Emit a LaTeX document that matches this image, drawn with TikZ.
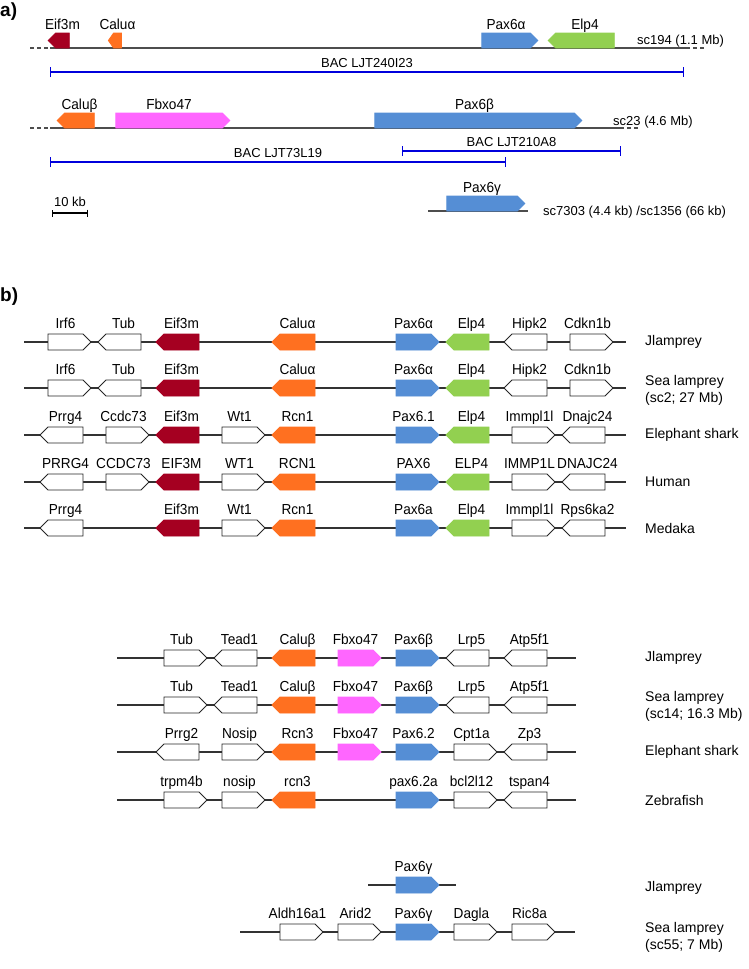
\documentclass[tikz,border=0pt]{standalone}
\usepackage{fontspec}
\setmainfont{Liberation Sans}
\newfontfamily\genefont{Liberation Sans}[FakeStretch=0.94]
\usepackage{tikz}
\usetikzlibrary{arrows.meta,shapes.symbols,positioning}

\definecolor{eifred}{RGB}{165,0,33}
\definecolor{caluorange}{RGB}{255,112,32}
\definecolor{paxblue}{RGB}{85,142,213}
\definecolor{elpgreen}{RGB}{146,208,80}
\definecolor{fbxpink}{RGB}{255,102,255}
\definecolor{bacblue}{RGB}{0,0,220}
\definecolor{chrgray}{RGB}{77,77,77}

\begin{document}
\begin{tikzpicture}[x=1pt,y=-1pt,
  gbox/.style={signal,minimum width=43pt,minimum height=16pt,inner sep=0pt,line width=0.8pt},
  gr/.style={gbox,signal to=east},
  gl/.style={gbox,signal to=west},
  wg/.style={draw=black!85,fill=white},
  eif/.style={fill=eifred,draw=eifred},
  calu/.style={fill=caluorange,draw=caluorange},
  pax/.style={fill=paxblue,draw=paxblue},
  elp/.style={fill=elpgreen,draw=elpgreen},
  fbx/.style={fill=fbxpink,draw=fbxpink},
  glab/.style={font=\genefont\fontsize{14.5}{16}\selectfont,inner sep=0pt,text depth=0pt,label distance=5pt},
  alab/.style={glab,label distance=3pt},
  sp/.style={font=\fontsize{14}{17}\selectfont,inner sep=0pt,anchor=west},
  sp2/.style={font=\fontsize{14}{17}\selectfont,inner sep=0pt,anchor=north west,align=left},
  small/.style={font=\fontsize{13}{15}\selectfont,inner sep=0pt},
  panel/.style={font=\fontsize{19}{21}\selectfont\bfseries,inner sep=0pt,anchor=west},
  chr/.style={draw=black!80,line width=1.2pt},
  chra/.style={draw=chrgray,line width=1.4pt},
  chrdash/.style={chra,dash pattern=on 4pt off 3pt},
  bac/.style={draw=bacblue,line width=1.4pt,arrows={Bar[width=10pt]-Bar[width=10pt]}},
  bar/.style={draw=black,line width=1.2pt,arrows={Bar[width=7pt]-Bar[width=7pt]}},
  baclab/.style={small,text depth=0pt,above=4pt}]
  \fill[white] (0,0) rectangle (748,969);
  \useasboundingbox (0,0) rectangle (748,969);

  \node[panel] (pa) at (0,12) {a)};

  \coordinate (c1l) at (30,48); \coordinate (c1s) at (50,48);
  \coordinate (c1e) at (686,48); \coordinate (c1r) at (705,48);
  \draw[chrdash] (c1l) -- (c1s);
  \draw[chra] (c1s) -- (c1e);
  \draw[chrdash] (c1e) -- (c1r);
  \node[gl,eif,minimum width=21pt,minimum height=15pt,label={[alab]above:Eif3m}] (eifa) at (62.5,40.5) {};
  \node[gl,calu,minimum width=13pt,minimum height=15pt,signal pointer angle=110,label={[alab]above:Caluα}] (calua) at (117.5,40.5) {};
  \node[gr,pax,minimum width=56pt,minimum height=15pt,label={[alab]above:Pax6α}] (paxa) at (506,40.5) {};
  \node[gl,elp,minimum width=66pt,minimum height=15pt,label={[alab]above:Elp4}] (elpa) at (585,40.5) {};
  \node[small,anchor=west] (sc194) at (637,41) {sc194 (1.1 Mb)};

  \coordinate (bac1s) at (50,72); \coordinate (bac1e) at (684,72);
  \draw[bac] (bac1s) -- node[baclab] {BAC LJT240I23} (bac1e);

  \coordinate (c2l) at (30,128); \coordinate (c2s) at (50,128);
  \coordinate (c2e) at (620,128); \coordinate (c2r) at (640,128);
  \draw[chrdash] (c2l) -- (c2s);
  \draw[chra] (c2s) -- (c2e);
  \draw[chrdash] (c2e) -- (c2r);
  \node[gl,calu,minimum width=37pt,minimum height=15pt,label={[alab]above:Caluβ}] (calub) at (79.5,120.5) {};
  \node[gr,fbx,minimum width=114pt,minimum height=15pt,label={[alab]above:Fbxo47}] (fbxb) at (169,120.5) {};
  \node[gr,pax,minimum width=207pt,minimum height=15pt,label={[alab]above:Pax6β}] (paxb) at (474.5,120.5) {};
  \node[small,anchor=west] (sc23) at (613,122) {sc23 (4.6 Mb)};

  \coordinate (bac2s) at (402,151); \coordinate (bac2e) at (621,151);
  \draw[bac] (bac2s) -- node[baclab] {BAC LJT210A8} (bac2e);
  \coordinate (bac3s) at (50,162); \coordinate (bac3e) at (506,162);
  \draw[bac] (bac3s) -- node[baclab] {BAC LJT73L19} (bac3e);

  \coordinate (kb1) at (52,213); \coordinate (kb2) at (88,213);
  \draw[bar] (kb1) -- node[small,text depth=0pt,above=6pt] {10 kb} (kb2);

  \coordinate (c3s) at (428,211); \coordinate (c3e) at (528,211);
  \draw[chra] (c3s) -- (c3e);
  \node[gr,pax,minimum width=78pt,minimum height=15pt,label={[alab]above:Pax6γ}] (paxg) at (482,203.5) {};
  \node[small,anchor=west] (sc7303) at (543,212) {sc7303 (4.4 kb) /sc1356 (66 kb)};

  \node[panel] (pb) at (0,297) {b)};

  \coordinate (jl1a) at (24,342); \coordinate (jl1b) at (626,342);
  \draw[chr] (jl1a) -- (jl1b);
  \foreach \pos/\dir/\sty/\gname [count=\k] in {0/gr/wg/Irf6,1/gl/wg/Tub,2/gl/eif/Eif3m,4/gl/calu/Caluα,6/gr/pax/Pax6α,7/gl/elp/Elp4,8/gl/wg/Hipk2,9/gr/wg/Cdkn1b}
    \node[\dir,\sty,label={[glab]above:\gname}] (jl1g\k) at ({65.5+58*\pos},342) {};
  \node[sp] (jl1t) at (645,342) {Jlamprey};

  \coordinate (sl1a) at (24,388); \coordinate (sl1b) at (626,388);
  \draw[chr] (sl1a) -- (sl1b);
  \foreach \pos/\dir/\sty/\gname [count=\k] in {0/gr/wg/Irf6,1/gl/wg/Tub,2/gl/eif/Eif3m,4/gl/calu/Caluα,6/gr/pax/Pax6α,7/gl/elp/Elp4,8/gl/wg/Hipk2,9/gr/wg/Cdkn1b}
    \node[\dir,\sty,label={[glab]above:\gname}] (sl1g\k) at ({65.5+58*\pos},388) {};
  \node[sp2] (sl1t) at (645,375) {Sea lamprey\\(sc2; 27 Mb)};

  \coordinate (es1a) at (24,435); \coordinate (es1b) at (626,435);
  \draw[chr] (es1a) -- (es1b);
  \foreach \pos/\dir/\sty/\gname [count=\k] in {0/gl/wg/Prrg4,1/gr/wg/Ccdc73,2/gl/eif/Eif3m,3/gr/wg/Wt1,4/gl/calu/Rcn1,6/gr/pax/Pax6.1,7/gl/elp/Elp4,8/gr/wg/Immpl1l,9/gl/wg/Dnajc24}
    \node[\dir,\sty,label={[glab]above:\gname}] (es1g\k) at ({65.5+58*\pos},435) {};
  \node[sp] (es1t) at (645,435) {Elephant shark};

  \coordinate (hu1a) at (24,482); \coordinate (hu1b) at (626,482);
  \draw[chr] (hu1a) -- (hu1b);
  \foreach \pos/\dir/\sty/\gname [count=\k] in {0/gl/wg/PRRG4,1/gr/wg/CCDC73,2/gl/eif/EIF3M,3/gr/wg/WT1,4/gl/calu/RCN1,6/gr/pax/PAX6,7/gl/elp/ELP4,8/gr/wg/IMMP1L,9/gl/wg/DNAJC24}
    \node[\dir,\sty,label={[glab]above:\gname}] (hu1g\k) at ({65.5+58*\pos},482) {};
  \node[sp] (hu1t) at (645,482) {Human};

  \coordinate (me1a) at (24,528); \coordinate (me1b) at (626,528);
  \draw[chr] (me1a) -- (me1b);
  \foreach \pos/\dir/\sty/\gname [count=\k] in {0/gl/wg/Prrg4,2/gl/eif/Eif3m,3/gr/wg/Wt1,4/gl/calu/Rcn1,6/gr/pax/Pax6a,7/gl/elp/Elp4,8/gr/wg/Immpl1l,9/gl/wg/Rps6ka2}
    \node[\dir,\sty,label={[glab]above:\gname}] (me1g\k) at ({65.5+58*\pos},528) {};
  \node[sp] (me1t) at (645,528) {Medaka};

  \coordinate (jl2a) at (117,658); \coordinate (jl2b) at (576,658);
  \draw[chr] (jl2a) -- (jl2b);
  \foreach \pos/\dir/\sty/\gname [count=\k] in {2/gr/wg/Tub,3/gl/wg/Tead1,4/gl/calu/Caluβ,5/gr/fbx/Fbxo47,6/gr/pax/Pax6β,7/gl/wg/Lrp5,8/gl/wg/Atp5f1}
    \node[\dir,\sty,label={[glab]above:\gname}] (jl2g\k) at ({65.5+58*\pos},658) {};
  \node[sp] (jl2t) at (645,658) {Jlamprey};

  \coordinate (sl2a) at (117,705); \coordinate (sl2b) at (576,705);
  \draw[chr] (sl2a) -- (sl2b);
  \foreach \pos/\dir/\sty/\gname [count=\k] in {2/gr/wg/Tub,3/gl/wg/Tead1,4/gl/calu/Caluβ,5/gr/fbx/Fbxo47,6/gr/pax/Pax6β,7/gl/wg/Lrp5,8/gl/wg/Atp5f1}
    \node[\dir,\sty,label={[glab]above:\gname}] (sl2g\k) at ({65.5+58*\pos},705) {};
  \node[sp2] (sl2t) at (645,691) {Sea lamprey\\(sc14; 16.3 Mb)};

  \coordinate (es2a) at (117,752); \coordinate (es2b) at (576,752);
  \draw[chr] (es2a) -- (es2b);
  \foreach \pos/\dir/\sty/\gname [count=\k] in {2/gl/wg/Prrg2,3/gr/wg/Nosip,4/gl/calu/Rcn3,5/gr/fbx/Fbxo47,6/gr/pax/Pax6.2,7/gr/wg/Cpt1a,8/gl/wg/Zp3}
    \node[\dir,\sty,label={[glab]above:\gname}] (es2g\k) at ({65.5+58*\pos},752) {};
  \node[sp] (es2t) at (645,752) {Elephant shark};

  \coordinate (zf2a) at (117,800); \coordinate (zf2b) at (576,800);
  \draw[chr] (zf2a) -- (zf2b);
  \foreach \pos/\dir/\sty/\gname [count=\k] in {2/gr/wg/trpm4b,3/gr/wg/nosip,4/gl/calu/rcn3,6/gr/pax/pax6.2a,7/gr/wg/bcl2l12,8/gl/wg/tspan4}
    \node[\dir,\sty,label={[glab]above:\gname}] (zf2g\k) at ({65.5+58*\pos},800) {};
  \node[sp] (zf2t) at (645,800) {Zebrafish};

  \coordinate (jl3a) at (368,885); \coordinate (jl3b) at (456,885);
  \draw[chr] (jl3a) -- (jl3b);
  \node[gr,pax,label={[glab]above:Pax6γ}] (jl3g) at (413.5,885) {};
  \node[sp] (jl3t) at (645,888) {Jlamprey};

  \coordinate (sl3a) at (240,932); \coordinate (sl3b) at (575,932);
  \draw[chr] (sl3a) -- (sl3b);
  \foreach \pos/\dir/\sty/\gname [count=\k] in {4/gr/wg/Aldh16a1,5/gr/wg/Arid2,6/gr/pax/Pax6γ,7/gr/wg/Dagla,8/gr/wg/Ric8a}
    \node[\dir,\sty,label={[glab]above:\gname}] (sl3g\k) at ({65.5+58*\pos},932) {};
  \node[sp2] (sl3t) at (645,922) {Sea lamprey\\(sc55; 7 Mb)};
\end{tikzpicture}
\end{document}
